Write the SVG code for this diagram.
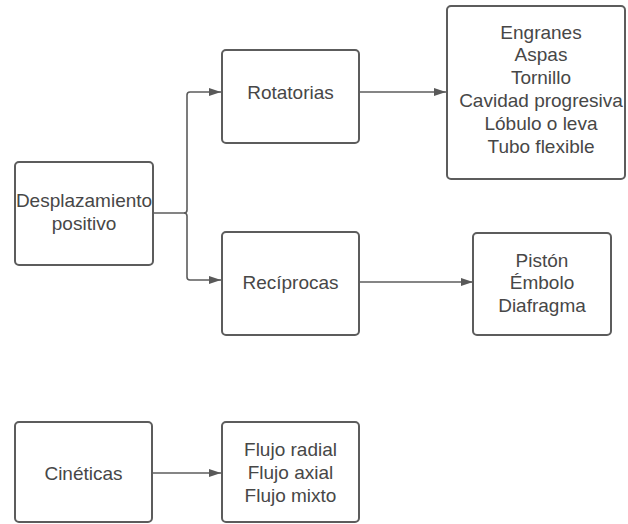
<svg xmlns="http://www.w3.org/2000/svg" width="628" height="524" viewBox="0 0 628 524">
  <defs>
    <marker id="arrow" viewBox="0 0 12 10" refX="12" refY="5" markerWidth="12" markerHeight="10" markerUnits="userSpaceOnUse" orient="auto">
      <path d="M0,1 L12,5 L0,9 Z" fill="#595959"/>
    </marker>
  </defs>
  <style>
    .box { fill: #ffffff; stroke: #5c5c5c; stroke-width: 2; }
    .lbl { font-family: "Liberation Sans", Arial, sans-serif; font-size: 19px; fill: #474747; text-anchor: middle; dominant-baseline: central; }
    .edge { fill: none; stroke: #5c5c5c; stroke-width: 1.6; }
  </style>
  <rect width="628" height="524" fill="#ffffff"/>

  <g id="connectors">
    <path class="edge" d="M153,213 H184 Q187,213 187,210 V95 Q187,92 190,92 H221" marker-end="url(#arrow)"/>
    <path class="edge" d="M184,213 Q187,213 187,216 V277 Q187,280 190,280 H221" marker-end="url(#arrow)"/>
    <path class="edge" d="M359,92 H446" marker-end="url(#arrow)"/>
    <path class="edge" d="M359,282 H473" marker-end="url(#arrow)"/>
    <path class="edge" d="M153,473 H221" marker-end="url(#arrow)"/>
  </g>

  <g id="desplazamiento">
    <rect class="box" x="15" y="162" width="138" height="103" rx="4"/>
    <text class="lbl" x="84" y="200">Desplazamiento</text>
    <text class="lbl" x="84" y="223">positivo</text>
  </g>

  <g id="rotatorias">
    <rect class="box" x="222" y="50" width="137" height="93" rx="4"/>
    <text class="lbl" x="290.5" y="92">Rotatorias</text>
  </g>

  <g id="tipos-rotatorias">
    <rect class="box" x="447" y="6" width="178" height="173" rx="4"/>
    <text class="lbl" x="541" y="32">Engranes</text>
    <text class="lbl" x="541" y="54">Aspas</text>
    <text class="lbl" x="541" y="77">Tornillo</text>
    <text class="lbl" x="541" y="100">Cavidad progresiva</text>
    <text class="lbl" x="541" y="123">Lóbulo o leva</text>
    <text class="lbl" x="541" y="146">Tubo flexible</text>
  </g>

  <g id="reciprocas">
    <rect class="box" x="222" y="232" width="137" height="103" rx="4"/>
    <text class="lbl" x="290.5" y="282">Recíprocas</text>
  </g>

  <g id="tipos-reciprocas">
    <rect class="box" x="473" y="233" width="138" height="102" rx="4"/>
    <text class="lbl" x="542" y="260">Pistón</text>
    <text class="lbl" x="542" y="282">Émbolo</text>
    <text class="lbl" x="542" y="305">Diafragma</text>
  </g>

  <g id="cineticas">
    <rect class="box" x="15" y="422" width="137" height="100" rx="4"/>
    <text class="lbl" x="83.5" y="473">Cinéticas</text>
  </g>

  <g id="tipos-cineticas">
    <rect class="box" x="222" y="422" width="137" height="100" rx="4"/>
    <text class="lbl" x="290.5" y="449">Flujo radial</text>
    <text class="lbl" x="290.5" y="472">Flujo axial</text>
    <text class="lbl" x="290.5" y="495">Flujo mixto</text>
  </g>
</svg>
